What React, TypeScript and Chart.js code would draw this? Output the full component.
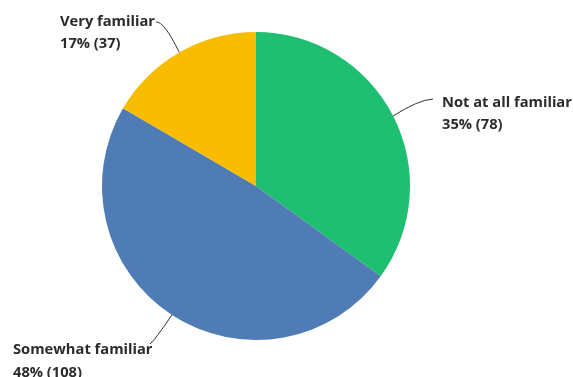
import React, { useEffect, useRef } from "react";
import { Chart, registerables } from "chart.js";

Chart.register(...registerables);

const categories = ["Not at all familiar", "Somewhat familiar", "Very familiar"];
const counts = [78, 108, 37];
const percents = ["35%", "48%", "17%"];
const colors = ["#1FBF71", "#507CB6", "#F8BC00"];

// label layout (text baseline anchor + leader start), index-aligned with categories
const labelLayout = [
  { tx: 442, ty: 106.5, lx: 433, ly: 99, cx: 418, cy: 100 },
  { tx: 13, ty: 354, lx: 150, ly: 344, cx: 155, cy: 340 },
  { tx: 60, ty: 25.5, lx: 156, ly: 22, cx: 164, cy: 21 },
];

const labelPlugin = {
  id: "leaderLabels",
  afterDraw(chart: any) {
    const ctx = chart.ctx;
    const meta = chart.getDatasetMeta(0);
    ctx.save();
    meta.data.forEach((arc: any, i: number) => {
      const { x, y, startAngle, endAngle, outerRadius } = arc.getProps(
        ["x", "y", "startAngle", "endAngle", "outerRadius"],
        true
      );
      const mid = (startAngle + endAngle) / 2;
      const ex = x + Math.cos(mid) * outerRadius;
      const ey = y + Math.sin(mid) * outerRadius;
      const L = labelLayout[i];
      ctx.beginPath();
      ctx.strokeStyle = "#333333";
      ctx.lineWidth = 1;
      ctx.moveTo(L.lx, L.ly);
      ctx.quadraticCurveTo(L.cx, L.cy, ex, ey);
      ctx.stroke();
      ctx.fillStyle = "#2b2b2b";
      ctx.font = "bold 14.7px 'Open Sans', 'Noto Sans', sans-serif";
      ctx.textAlign = "left";
      ctx.textBaseline = "alphabetic";
      ctx.fillText(categories[i], L.tx, L.ty);
      ctx.fillText(`${percents[i]} (${counts[i]})`, L.tx, L.ty + 22.5);
    });
    ctx.restore();
  },
};

export default function App() {
  const ref = useRef<HTMLCanvasElement>(null);
  useEffect(() => {
    if (!ref.current) return;
    const chart = new Chart(ref.current, {
      type: "pie",
      data: {
        labels: categories,
        datasets: [
          {
            data: counts,
            backgroundColor: colors,
            borderWidth: 0,
          },
        ],
      },
      options: {
        animation: false,
        responsive: true,
        maintainAspectRatio: false,
        layout: { padding: { left: 102, right: 163, top: 32, bottom: 37 } },
        plugins: {
          legend: { display: false },
          tooltip: { enabled: false },
        },
      },
      plugins: [labelPlugin],
    });
    return () => chart.destroy();
  }, []);
  return (
    <div style={{ position: "absolute", left: 0, top: 0, width: 573, height: 377, background: "#fff" }}>
      <canvas ref={ref} />
    </div>
  );
}
